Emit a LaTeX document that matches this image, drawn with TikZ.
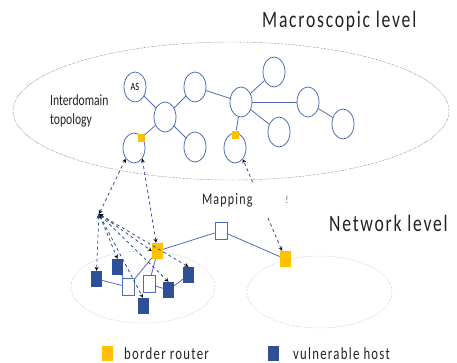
\documentclass[tikz,border=0pt]{standalone}
\usepackage{fontspec}
\setmainfont{Carlito}
\newfontfamily\spaced[LetterSpace=10]{Carlito}
\usetikzlibrary{shapes.geometric}
\definecolor{asblue}{RGB}{79,109,180}
\definecolor{mapblue}{RGB}{47,78,145}
\definecolor{hostblue}{RGB}{47,80,150}
\definecolor{routeryellow}{RGB}{255,192,0}
\definecolor{clusterblue}{RGB}{140,160,210}
\definecolor{textgray}{RGB}{34,34,34}
\newcommand{\narrow}[1]{\scalebox{0.75}[1]{#1}}
\begin{document}
\begin{tikzpicture}[x=1pt, y=-1pt,
  as/.style={shape=ellipse, draw=asblue, thick, minimum width=22pt, minimum height=30pt, inner sep=0pt},
  router/.style={shape=rectangle, fill=routeryellow, inner sep=0pt, minimum width=11pt, minimum height=16pt},
  asrouter/.style={router, minimum width=7pt, minimum height=8pt},
  host/.style={shape=rectangle, fill=hostblue, inner sep=0pt, minimum width=11pt, minimum height=16pt},
  plain/.style={shape=rectangle, fill=white, draw=asblue, thick, inner sep=0pt, minimum width=12pt, minimum height=17pt},
  link/.style={-, thick, draw=asblue},
  map/.style={<->, >=stealth, dashed, thick, draw=mapblue},
  label/.style={anchor=base west, inner sep=0pt, text=textgray}]
\useasboundingbox (0,0) rectangle (457,362);

% levels
\node[label, font=\spaced\fontsize{23.5}{28}\selectfont] (macro) at (262,27) {\narrow{Macroscopic level}};
\node[label, font=\spaced\fontsize{23.5}{28}\selectfont] (network) at (329,231) {\narrow{Network level}};

% interdomain topology
\draw[densely dotted, gray!30!black] (231,111) ellipse [x radius=218pt, y radius=69pt];
\node[label, align=left, font=\fontsize{15.5}{19}\selectfont] (topo) at (50,124) {\narrow{Interdomain}\\\narrow{topology}};
\node[as, font=\fontsize{11}{13}\selectfont] (1) at (135,87) {\narrow{AS}};
\node[as] (2) at (165,117) {};
\node[as] (3) at (195,87) {};
\node[as] (4) at (134,148) {};
\node[as] (5) at (195,147) {};
\node[as] (6) at (241,102) {};
\node[as] (7) at (274,72) {};
\node[as] (8) at (308,102) {};
\node[as] (9) at (343,124) {};
\node[as] (10) at (279,132) {};
\node[as] (11) at (235,148) {};
\node[asrouter] (b4) at (141,138) {};
\node[asrouter] (b11) at (235.5,134.5) {};
\path[link] (1) edge (2);
\path[link] (2) edge (3);
\path[link] (2) edge (b4);
\path[link] (2) edge (5);
\path[link] (3) edge (6);
\path[link] (6) edge (7);
\path[link] (6) edge (8);
\path[link] (8) edge (9);
\path[link] (6) edge (10);
\path[link] (6) edge (b11);

% networks
\draw[densely dotted, clusterblue] (143,287) ellipse [x radius=72pt, y radius=36pt];
\draw[densely dotted, clusterblue] (319.5,292) ellipse [x radius=72.5pt, y radius=36pt];
\node[router] (r1) at (157.5,251) {};
\node[plain] (m) at (221,231) {};
\node[router] (r2) at (285.5,259) {};
\node[host] (h1) at (96.5,279) {};
\node[host] (h2) at (117.5,267) {};
\node[host] (h3) at (143,306) {};
\node[host] (h4) at (168.5,290) {};
\node[host] (h5) at (188.5,275) {};
\node[plain] (w1) at (128,287) {};
\node[plain] (w2) at (149,284) {};
\coordinate (fan) at (99,214);
\path[link] (r1) edge (m);
\path[link] (m) edge (r2);
\path[link] (h1) edge (w1);
\path[link] (h2) edge (w1);
\path[link] (w1) edge (r1);
\path[link] (w2) edge (r1);
\path[link] (w2) edge (h4);
\path[link] (h4) edge (h5);

% mapping between the levels
\path[map] (fan) edge (4.232);
\path[map] (r1) edge (4.308);
\path[map] (r2) edge (11.305);
\path[map] (fan) edge (h1.north);
\path[map] (fan) edge (h2.north);
\path[map] (fan) edge (h3.north);
\path[map] (fan) edge (h4.north);
\path[map] (fan) edge (h5.north);
\path[map] (fan) edge (r1.west);
\node[fill=white, inner xsep=7pt, inner ysep=0pt, text width=76pt, minimum height=32pt, align=left, text=textgray, font=\spaced\fontsize{16}{19}\selectfont] (mapping) at (240,200) {\narrow{Mapping}};
\node[text=gray, inner sep=0pt, font=\fontsize{11}{13}\selectfont] (bang) at (287,200) {!};

% legend
\node[router, minimum height=15pt] (lr) at (107.5,353.5) {};
\node[label, font=\spaced\fontsize{17}{20}\selectfont] (lrtext) at (124,359) {\narrow{border router}};
\node[host, minimum height=15pt] (lh) at (273,353.5) {};
\node[label, font=\spaced\fontsize{17}{20}\selectfont] (lhtext) at (293,359) {\narrow{vulnerable host}};
\end{tikzpicture}
\end{document}
